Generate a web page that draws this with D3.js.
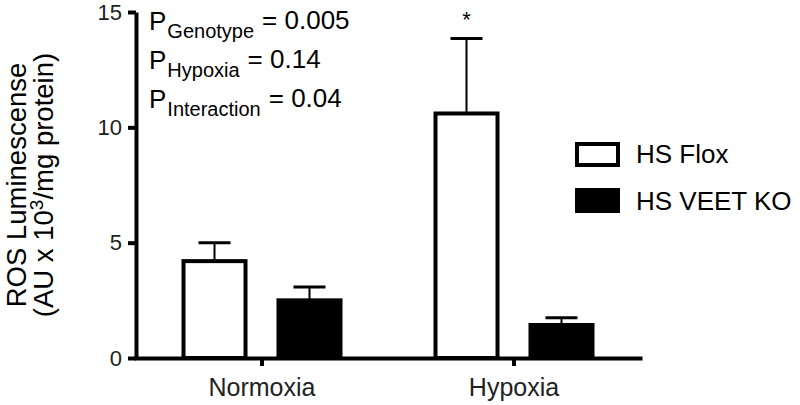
<!DOCTYPE html>
<html>
<head>
<meta charset="utf-8">
<script src="https://cdn.jsdelivr.net/npm/d3@7"></script>
<style>
  body { margin: 0; background: #fff; }
  svg { display: block; font-family: "Liberation Sans", Arial, sans-serif; }
</style>
</head>
<body>
<div id="chart"></div>
<script>
// === DATA ===
const conditions = ["Normoxia", "Hypoxia"];
const series = ["HS Flox", "HS VEET KO"];
const floxMeans = [4.2, 10.6];
const floxErr = [0.8, 3.25];
const koMeans = [2.5, 1.43];
const koErr = [0.58, 0.32];
const yTicks = [0, 5, 10, 15];
const pLabels = [
    { sub: "Genotype", value: "= 0.005" },
    { sub: "Hypoxia", value: "= 0.14" },
    { sub: "Interaction", value: "= 0.04" }
];

const width = 800;
const height = 405;
const margin = { top: 12, right: 160, bottom: 47, left: 136 };

const svg = d3.select("#chart")
    .append("svg")
    .attr("width", width)
    .attr("height", height);

// scales
const x0 = d3.scaleBand()
    .domain(conditions)
    .range([margin.left, width - margin.right]);

const x1 = d3.scaleBand()
    .domain(series)
    .range([45.5, 206.5])
    .paddingInner(0.305);

const y = d3.scaleLinear()
    .domain([0, 15])
    .range([height - margin.bottom, margin.top]);

const color = d3.scaleOrdinal().domain(series).range(["#fff", "#000"]);

// rows for bars
const rows = [];
conditions.forEach((c, i) => {
    rows.push({ cond: c, s: series[0], mean: floxMeans[i], err: floxErr[i] });
    rows.push({ cond: c, s: series[1], mean: koMeans[i], err: koErr[i] });
});

const cx = d => x0(d.cond) + x1(d.s) + x1.bandwidth() / 2;

// error bars (drawn behind bars)
const capW = 32;
const eb = svg.append("g").attr("stroke", "#000");
eb.selectAll("line.stem")
    .data(rows)
    .enter().append("line")
    .attr("class", "stem")
    .attr("x1", cx)
    .attr("x2", cx)
    .attr("y1", d => y(d.mean))
    .attr("y2", d => y(d.mean + d.err))
    .attr("stroke-width", 2);
eb.selectAll("line.cap")
    .data(rows)
    .enter().append("line")
    .attr("class", "cap")
    .attr("x1", d => cx(d) - capW / 2)
    .attr("x2", d => cx(d) + capW / 2)
    .attr("y1", d => y(d.mean + d.err))
    .attr("y2", d => y(d.mean + d.err))
    .attr("stroke-width", 3);

// bars
svg.append("g")
    .selectAll("rect")
    .data(rows)
    .enter().append("rect")
    .attr("x", d => x0(d.cond) + x1(d.s) + 2)
    .attr("width", x1.bandwidth() - 4)
    .attr("y", d => y(d.mean))
    .attr("height", d => y(0) - y(d.mean))
    .attr("fill", d => color(d.s))
    .attr("stroke", "#000")
    .attr("stroke-width", 4);

// significance star
svg.append("text")
    .attr("x", cx(rows[2]))
    .attr("y", y(floxMeans[1] + floxErr[1]) - 12)
    .attr("text-anchor", "middle")
    .attr("font-size", 22)
    .text("*");

// axes
const yAxis = svg.append("g")
    .attr("transform", `translate(${margin.left},0)`)
    .call(d3.axisLeft(y).tickValues(yTicks).tickSize(8).tickSizeOuter(0).tickPadding(6));
yAxis.select(".domain").attr("stroke-width", 4);
yAxis.selectAll(".tick line").attr("stroke-width", 4);
yAxis.selectAll(".tick text").attr("font-size", 22).attr("fill", "#222");

const xAxis = svg.append("g")
    .attr("transform", `translate(0,${y(0)})`)
    .call(d3.axisBottom(x0).tickSize(8).tickSizeOuter(0).tickPadding(12));
xAxis.select(".domain").attr("stroke-width", 4).attr("stroke-linecap", "square");
xAxis.selectAll(".tick line").attr("stroke-width", 4);
xAxis.selectAll(".tick text").attr("font-size", 25).attr("fill", "#222");
svg.selectAll(".domain, .tick line").attr("stroke", "#000");

// y axis title
const yTitle = svg.append("g")
    .attr("transform", `translate(0,${(y(0) + y(15)) / 2}) rotate(-90)`)
    .attr("text-anchor", "middle")
    .attr("font-size", 27.5);
yTitle.append("text").attr("y", 26).text("ROS Luminescense");
const t2 = yTitle.append("text").attr("y", 53);
t2.append("tspan").text("(AU x 10");
t2.append("tspan").attr("font-size", 19).attr("dy", -10).text("3");
t2.append("tspan").attr("dy", 10).text("/mg protein)");

// p-values
const pg = svg.append("g");
pLabels.forEach((p, i) => {
    const t = pg.append("text")
        .attr("x", 149)
        .attr("y", 30 + i * 39)
        .attr("font-size", 26);
    t.append("tspan").text("P");
    t.append("tspan").attr("font-size", 20).attr("dy", 8).attr("dx", 1).text(p.sub);
    t.append("tspan").attr("dy", -9).attr("dx", 8).text(p.value);
});

// legend
const legend = svg.append("g");
series.forEach((s, i) => {
    legend.append("rect")
        .attr("x", 577)
        .attr("y", 144 + i * 46)
        .attr("width", 41)
        .attr("height", 21)
        .attr("fill", color(s))
        .attr("stroke", "#000")
        .attr("stroke-width", 4);
    legend.append("text")
        .attr("x", 636)
        .attr("y", 163 + i * 47)
        .attr("font-size", 26)
        .text(s);
});
</script>
</body>
</html>
